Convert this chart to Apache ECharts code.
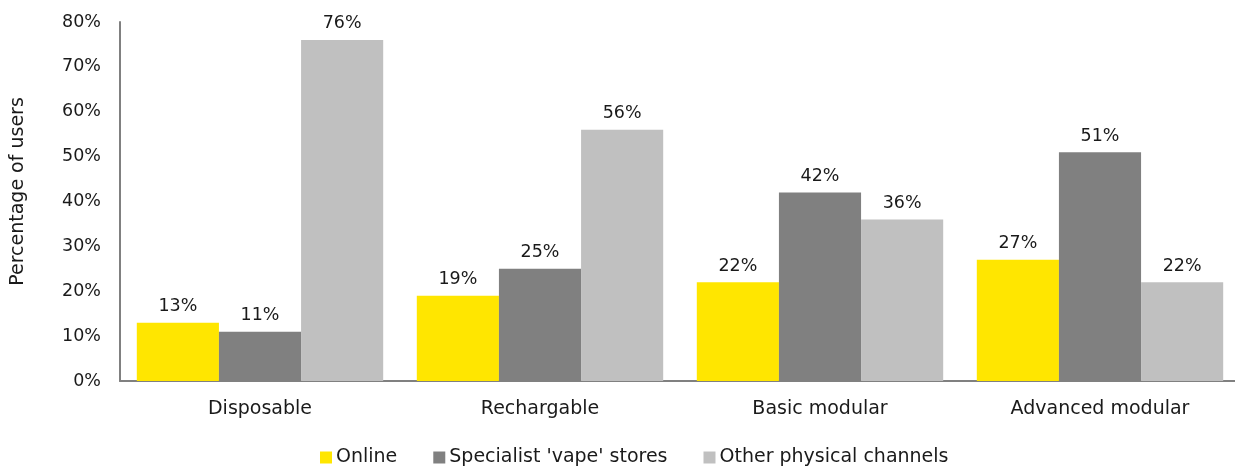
<!DOCTYPE html>
<html><head><meta charset="utf-8">
<script src="https://cdn.jsdelivr.net/npm/echarts@6/dist/echarts.min.js"></script>
<style>html,body{margin:0;padding:0;background:#fff;overflow:hidden;width:1235px;height:475px}#c{width:1240px;height:475px}</style>
</head><body><div id="c"></div>
<script>
const categories = ['Disposable', 'Rechargable', 'Basic modular', 'Advanced modular'];
const online = [13, 19, 22, 27];
const specialist = [11, 25, 42, 51];
const otherPhysical = [76, 56, 36, 22];
const seriesNames = ['Online', "Specialist 'vape' stores", 'Other physical channels'];
const colors = ['#FFE600', '#808080', '#C0C0C0'];

const font = 'DejaVu Sans';
const txt = '#1a1a1a';
const chart = echarts.init(document.getElementById('c'));
const mk = (name, data, color) => ({
  name, type: 'bar', data, barGap: '0%', barCategoryGap: '12%',
  itemStyle: { color },
  label: { show: true, position: 'top', distance: 7, formatter: '{c}%', color: txt, fontFamily: font, fontSize: 17.5 }
});
chart.setOption({
  animation: false,
  grid: { left: 120, right: 0, top: 22, bottom: 94, containLabel: false, outerBoundsMode: 'none' },
  legend: {
    bottom: 3, left: 315, itemWidth: 12, itemHeight: 12, itemGap: 36, icon: 'rect',
    textStyle: { fontFamily: font, fontSize: 19, color: txt, padding: [0, 0, 0, -1] },
    data: seriesNames
  },
  xAxis: {
    type: 'category', data: categories,
    axisLine: { lineStyle: { color: '#808080', width: 2 } },
    axisTick: { show: false },
    axisLabel: { fontFamily: font, fontSize: 19, color: txt, margin: 19 }
  },
  yAxis: {
    type: 'value', min: 0, max: 80, interval: 10,
    name: 'Percentage of users', nameLocation: 'middle', nameGap: 92, nameRotate: 90,
    nameTextStyle: { fontFamily: font, fontSize: 19, color: txt, padding: [0, 0, 0, 20] },
    axisLine: { show: true, lineStyle: { color: '#808080', width: 2 } },
    axisTick: { show: false },
    splitLine: { show: false },
    axisLabel: { fontFamily: font, fontSize: 17.5, color: txt, margin: 19, formatter: '{value}%' }
  },
  series: [
    mk(seriesNames[0], online, colors[0]),
    mk(seriesNames[1], specialist, colors[1]),
    mk(seriesNames[2], otherPhysical, colors[2])
  ]
});
</script></body></html>
